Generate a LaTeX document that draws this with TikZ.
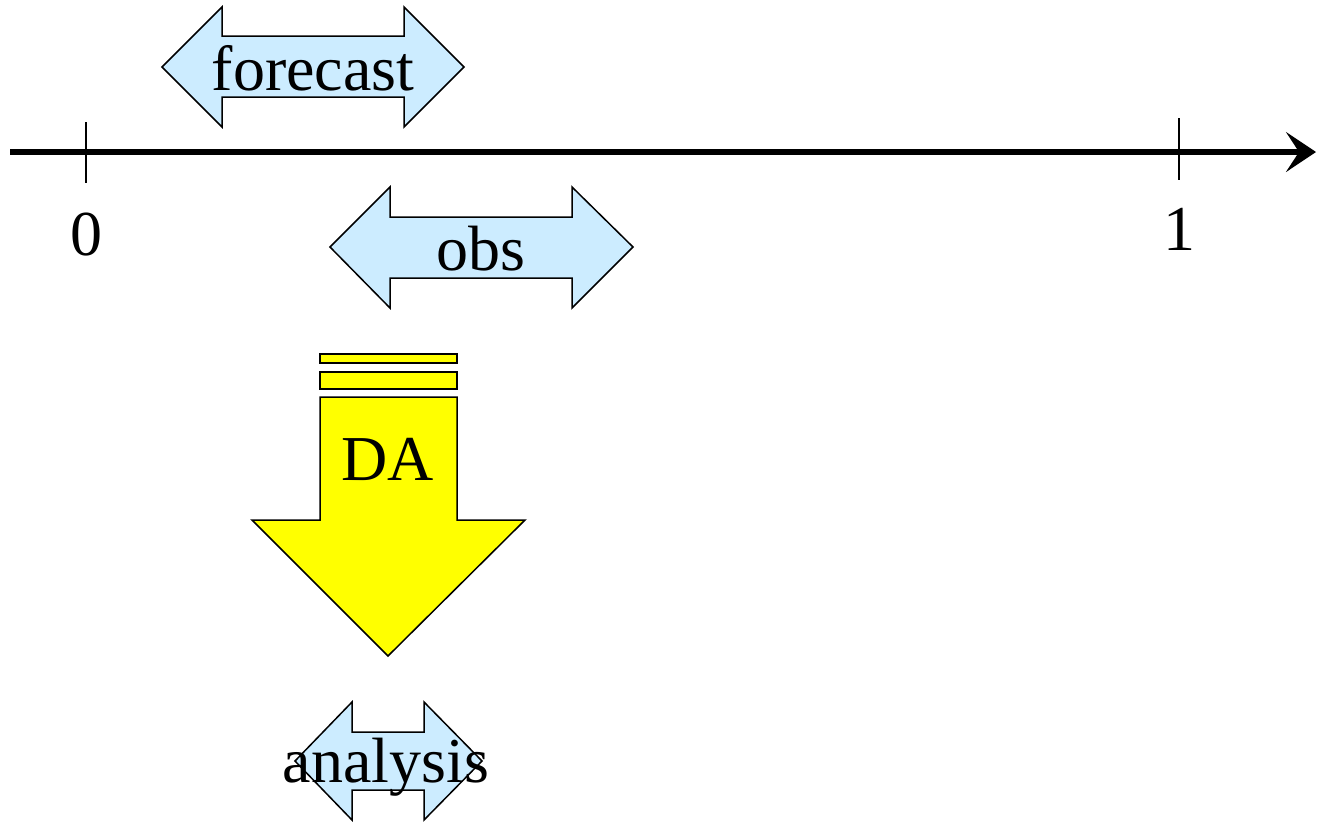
\documentclass[tikz,border=0pt]{standalone}
\usepackage{fontspec}
\setmainfont{Liberation Serif}
\usetikzlibrary{arrows.meta}
\definecolor{skyfill}{HTML}{CCECFF}
\definecolor{dayellow}{HTML}{FFFF00}
\tikzset{
  blockarrow/.style={draw=black, line width=1.5pt, line join=miter},
  skyarrow/.style={blockarrow, fill=skyfill},
  yelarrow/.style={blockarrow, fill=dayellow},
  bigtext/.style={font=\fontsize{64}{70}\selectfont, inner sep=0pt, anchor=base},
  tickmark/.style={line width=1.8pt},
}
\begin{document}
\begin{tikzpicture}[x=1pt,y=-1pt]
\useasboundingbox (0,0) rectangle (1317,823);

% time axis
\coordinate (axstart) at (10,152);
\coordinate (axend) at (1316,152);
\draw[line width=6pt, -{Stealth[length=30pt,width=40pt,inset=13pt]}] (axstart) -- (axend);

% ticks and labels
\coordinate (t0top) at (86,122);
\coordinate (t0bot) at (86,183);
\coordinate (t1top) at (1179,118);
\coordinate (t1bot) at (1179,180);
\draw[tickmark] (t0top) -- (t0bot);
\draw[tickmark] (t1top) -- (t1bot);
\node[bigtext] (lab0) at (86,255) {0};
\node[bigtext] (lab1) at (1179,250) {1};

% forecast window
\draw[skyarrow] (162,67) -- (222,7) -- (222,36) -- (404,36) -- (404,7) -- (464,67)
  -- (404,127) -- (404,97) -- (222,97) -- (222,127) -- cycle;
\node[bigtext] (forecast) at (313,90) {forecast};

% observation window
\draw[skyarrow] (330,247) -- (390,187) -- (390,217) -- (572,217) -- (572,187) -- (633,247)
  -- (572,308) -- (572,278) -- (390,278) -- (390,308) -- cycle;
\node[bigtext] (obs) at (481,270) {obs};

% data assimilation arrow
\draw[yelarrow] (320,354) rectangle (457,363);
\draw[yelarrow] (320,372) rectangle (457,389);
\draw[yelarrow] (320,397) -- (457,397) -- (457,520) -- (525,520) -- (388,656)
  -- (252,520) -- (320,520) -- cycle;
\node[bigtext] (da) at (388,480) {DA};

% analysis window
\draw[skyarrow] (295,761) -- (352,702) -- (352,732) -- (424,732) -- (424,702) -- (482,761)
  -- (424,820) -- (424,790) -- (352,790) -- (352,820) -- cycle;
\node[bigtext] (analysis) at (386,782) {analysis};
\end{tikzpicture}
\end{document}
